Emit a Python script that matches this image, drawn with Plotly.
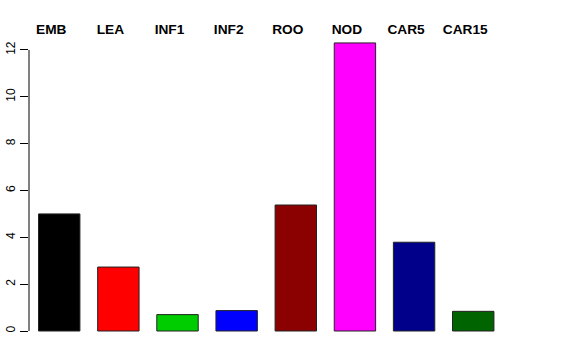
import plotly.graph_objects as go

categories = ["EMB", "LEA", "INF1", "INF2", "ROO", "NOD", "CAR5", "CAR15"]
values = [5.0, 2.73, 0.70, 0.87, 5.38, 12.3, 3.79, 0.84]
colors = ["#000000", "#FF0000", "#00CD00", "#0000FF", "#8B0000", "#FF00FF", "#00008B", "#006400"]
yticks = [0, 2, 4, 6, 8, 10, 12]

xs = list(range(len(categories)))

fig = go.Figure()
fig.add_trace(go.Bar(
    x=xs, y=values, width=0.70,
    marker=dict(color=colors, line=dict(color="#222222", width=1)),
    hoverinfo="skip",
))

W, H = 576, 360
ml, mt, mb = 29, 40, 20
period = 59.2
x0px = 59.25
xmin = -(x0px - ml) / period
right_px = 562.5
xmax = (right_px - x0px) / period
mr = W - right_px

ypx0 = 331.0
ppu = 23.42
ymin = -((H - mb) - ypx0) / ppu
ymax = (ypx0 - mt) / ppu

fig.update_layout(
    width=W, height=H,
    margin=dict(l=ml, r=mr, t=mt, b=mb, pad=0, autoexpand=False),
    paper_bgcolor="white", plot_bgcolor="white",
    showlegend=False,
    font=dict(family="Liberation Sans, Arial, sans-serif", color="black"),
    xaxis=dict(
        range=[xmin, xmax], side="top", automargin=False,
        tickvals=xs, ticktext=categories, ticklabelshift=-8, ticklabelstandoff=2,
        ticks="", showgrid=False, zeroline=False, showline=False,
        tickfont=dict(size=13.7, family="Liberation Sans, Arial, sans-serif", weight="bold"),
    ),
    yaxis=dict(
        range=[ymin, ymax], automargin=False,
        tickvals=yticks, ticktext=[str(v) for v in yticks],
        ticks="outside", ticklen=8, tickwidth=1, tickcolor="black",
        tickangle=-90, tickfont=dict(size=12),
        showgrid=False, zeroline=False, showline=False,
    ),
)

fig.add_shape(type="line", xref="paper", yref="y", x0=0, x1=0,
              y0=yticks[0], y1=yticks[-1], line=dict(color="black", width=1))

fig.write_html("out.html")
